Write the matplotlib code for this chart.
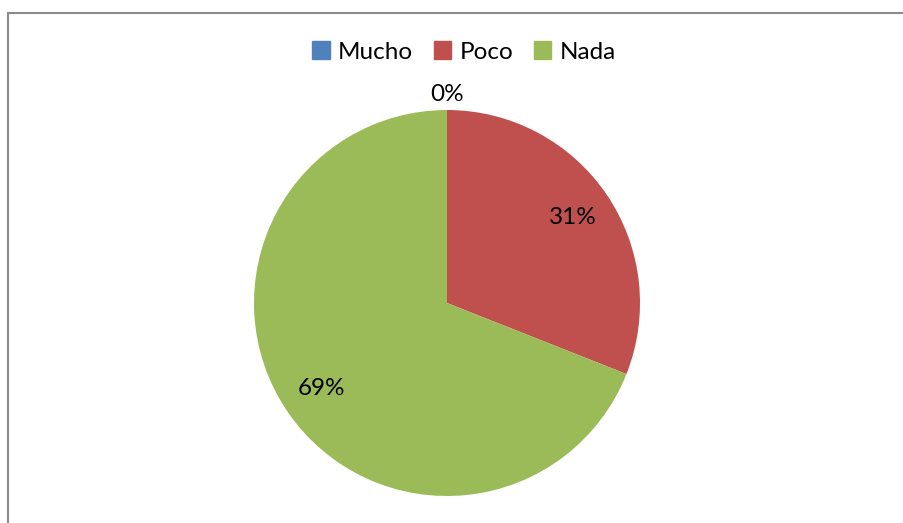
import matplotlib
matplotlib.use("Agg")
import matplotlib.pyplot as plt
import numpy as np
from matplotlib.patches import Rectangle

categories = ["Mucho", "Poco", "Nada"]
values = [0, 31, 69]
labels = ["0%", "31%", "69%"]
colors = ["#4F81BD", "#C0504D", "#9BBB59"]

W, H = 904, 523
plt.rcParams["font.family"] = ["Lato", "DejaVu Sans"]

fig = plt.figure(figsize=(W / 100, H / 100), dpi=100)
ax = fig.add_axes([0, 0, 1, 1])

# chart frame (right and bottom edges run off the image)
ax.add_patch(Rectangle((8.5, -10), W + 20, H - 12.5 + 10, fill=False,
                       edgecolor="#8c8c8c", lw=1.5))

cx, cy, r = 447, H - 303, 193
ax.pie(values, colors=colors, startangle=90, counterclock=False,
       center=(cx, cy), radius=r, frame=True, wedgeprops=dict(linewidth=0))
ax.set_xlim(0, W)
ax.set_ylim(0, H)
ax.set_aspect("equal")
ax.axis("off")

# data labels
tot = float(sum(values))
start = 90.0
for v, lbl in zip(values, labels):
    span = 360.0 * v / tot
    mid = np.deg2rad(start - span / 2)
    d = 152 if v > 0 else 209
    ax.text(cx + d * np.cos(mid), cy + d * np.sin(mid), lbl,
            ha="center", va="center", fontsize=17.5, color="#000000")
    start -= span

handles = [Rectangle((0, 0), 1, 1, color=c) for c in colors]
fig.legend(handles, categories, loc="center", bbox_to_anchor=(464 / W, 1 - 52 / H),
           ncol=3, frameon=False, fontsize=17.5, handlelength=0.7, handleheight=0.7,
           handletextpad=0.35, columnspacing=0.85)

fig.savefig("out.png", dpi=100)
